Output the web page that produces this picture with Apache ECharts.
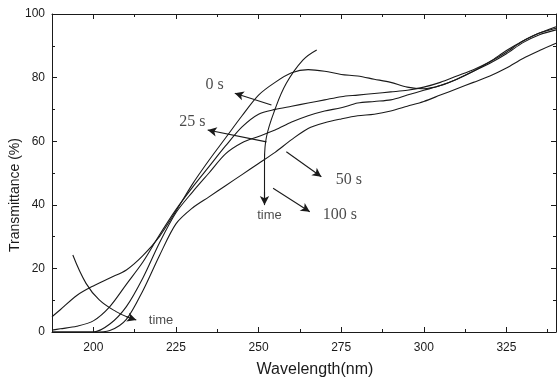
<!DOCTYPE html>
<html>
<head>
<meta charset="utf-8">
<script src="https://cdn.jsdelivr.net/npm/echarts@6/dist/echarts.min.js"></script>
<style>
  html, body { margin: 0; padding: 0; background: #fff; }
  #chart { width: 558px; height: 378px; }
</style>
</head>
<body>
<div id="chart"></div>
<script>
// wavelength grid (nm)
const wavelength = [187.5, 190, 195, 200, 205, 210, 215, 220, 225, 230, 235, 240, 245, 250, 255, 260,
  265, 270, 275, 280, 285, 290, 295, 300, 305, 310, 315, 320, 325, 330, 335, 340]

// transmittance (%)
const t0 = [4.8, 7, 11.5, 14.5, 17, 19.5, 24, 30, 38, 46.5, 54, 61, 68, 74.5, 78.5, 81.5,
  82.5, 82, 81, 80.5, 79.5, 78.5, 77, 76.5, 77.5, 79.5, 82, 85, 88.5, 91.5, 94, 95.5]
const t25 = [0.6, 1, 1.8, 3.5, 8, 15, 22, 30.5, 38.5, 45.5, 52, 58.5, 64.5, 68.5, 70, 71,
  72, 73, 74, 74.5, 75, 75.5, 76, 77, 78.5, 80.5, 82.5, 85, 88, 91.5, 94, 96]
const t50 = [0, 0, 0, 0, 2.5, 8, 17, 28, 37.5, 44, 50, 56, 59.5, 61.5, 63.5, 66,
  68, 69.5, 70.5, 72, 72.5, 73, 74.5, 76, 77.5, 79.5, 82, 84.5, 87.5, 91, 93.5, 95]
const t100 = [0, 0, 0, 0, 0.5, 4, 13, 24, 34, 39, 42.5, 46, 49.5, 53, 56.5, 60.5,
  64, 65.8, 67, 68, 68.5, 69.5, 71, 72.5, 74.5, 76.5, 78.5, 80.5, 83, 86, 88.5, 90.8]

const xMajor = [200, 225, 250, 275, 300, 325]
const xMinor = [212.5, 237.5, 262.5, 287.5, 312.5, 337.5]

// annotations (data coordinates)
const arrows = [
  [[253.9, 71.4], [242.8, 75.1]],
  [[252.4, 59.8], [234.6, 63.5]],
  [[258.4, 56.7], [269, 48.8]],
  [[254.4, 45.2], [265.5, 37.8]]
]
const timeArcTop = [[267.6, 88.7], [263.4, 85.5], [258.4, 78.2], [254.9, 69.8], [252.4, 61.4], [251.8, 54.1], [251.8, 42]]
const timeArcTopHead = [[251.8, 44], [251.8, 39.9]]
const timeArcLow = [[193.8, 24.2], [197.8, 15.3], [201.8, 10.1], [206.9, 6.4], [211, 4.4]]
const timeArcLowHead = [[210, 4.8], [213, 3.8]]
const serifLabels = [[236.7, 77.7, '0 s'], [230, 66, '25 s'], [277.3, 47.8, '50 s'], [274.6, 36.8, '100 s']]
const sansLabels = [[253.3, 36.6, 'time'], [220.5, 3.6, 'time']]

const ink = '#1a1a1a'
const zip = (ys) => wavelength.map((x, i) => [x, ys[i]])

const curve = (name, ys) => ({
  name,
  type: 'line',
  data: zip(ys),
  smooth: 0.3,
  showSymbol: false,
  lineStyle: { color: ink, width: 1.1 },
  silent: true
})

const arrowLines = arrows.concat([timeArcTopHead, timeArcLowHead])
  .map(([a, b]) => [{ coord: a }, { coord: b }])

const chart = echarts.init(document.getElementById('chart'))

const xBase = {
  type: 'value',
  min: 187.5,
  max: 340,
  splitLine: { show: false },
  axisLine: { show: true, lineStyle: { color: ink, width: 1 } }
}
const yBase = {
  type: 'value',
  min: 0,
  max: 100,
  interval: 20,
  splitLine: { show: false },
  axisLine: { show: true, lineStyle: { color: ink, width: 1 } },
  axisTick: { inside: true, length: 5, lineStyle: { color: ink } },
  minorTick: { show: true, splitNumber: 2, length: 3, lineStyle: { color: ink } }
}

chart.setOption({
  animation: false,
  grid: { left: 52, right: 2, top: 14, bottom: 46, outerBoundsMode: 'none' },
  xAxis: [
    {
      ...xBase,
      position: 'bottom',
      name: 'Wavelength(nm)',
      nameLocation: 'middle',
      nameGap: 30,
      nameMoveOverlap: false,
      nameTextStyle: { fontFamily: 'Liberation Sans', fontSize: 16, color: ink, padding: [0, 0, 0, 22] },
      axisTick: { inside: true, length: 5, customValues: xMajor, lineStyle: { color: ink } },
      axisLabel: { customValues: xMajor, fontFamily: 'Liberation Sans', fontSize: 12, color: ink, margin: 10 }
    },
    {
      ...xBase,
      position: 'bottom',
      axisLine: { show: false },
      axisTick: { inside: true, length: 3, customValues: xMinor, lineStyle: { color: ink } },
      axisLabel: { show: false }
    },
    {
      ...xBase,
      position: 'top',
      axisTick: { inside: true, length: 5, customValues: xMajor, lineStyle: { color: ink } },
      axisLabel: { show: false }
    },
    {
      ...xBase,
      position: 'top',
      axisLine: { show: false },
      axisTick: { inside: true, length: 3, customValues: xMinor, lineStyle: { color: ink } },
      axisLabel: { show: false }
    }
  ],
  yAxis: [
    {
      ...yBase,
      position: 'left',
      name: 'Transmittance (%)',
      nameLocation: 'middle',
      nameGap: 30,
      nameMoveOverlap: false,
      nameTextStyle: { fontFamily: 'Liberation Sans', fontSize: 14, color: ink, padding: [0, 44, 0, 0] },
      axisLabel: { fontFamily: 'Liberation Sans', fontSize: 12, color: ink, margin: 7 }
    },
    {
      ...yBase,
      position: 'right',
      axisLabel: { show: false }
    }
  ],
  series: [
    {
      ...curve('0 s', t0),
      markLine: {
        silent: true,
        symbol: ['none', 'arrow'],
        symbolSize: [7, 9],
        label: { show: false },
        lineStyle: { color: ink, width: 1.1, type: 'solid' },
        data: arrowLines
      }
    },
    curve('25 s', t25),
    curve('50 s', t50),
    curve('100 s', t100),
    {
      type: 'line',
      data: timeArcTop,
      smooth: 0.4,
      showSymbol: false,
      silent: true,
      lineStyle: { color: ink, width: 1.1 }
    },
    {
      type: 'line',
      data: timeArcLow,
      smooth: 0.4,
      showSymbol: false,
      silent: true,
      lineStyle: { color: ink, width: 1.1 }
    },
    {
      type: 'scatter',
      data: serifLabels,
      symbolSize: 0,
      silent: true,
      label: {
        show: true,
        position: 'inside',
        formatter: (p) => p.value[2],
        fontFamily: 'Liberation Serif',
        fontSize: 16,
        color: ink
      }
    },
    {
      type: 'scatter',
      data: sansLabels,
      symbolSize: 0,
      silent: true,
      label: {
        show: true,
        position: 'inside',
        formatter: (p) => p.value[2],
        fontFamily: 'Liberation Sans',
        fontSize: 13,
        color: ink
      }
    }
  ]
})
</script>
</body>
</html>
